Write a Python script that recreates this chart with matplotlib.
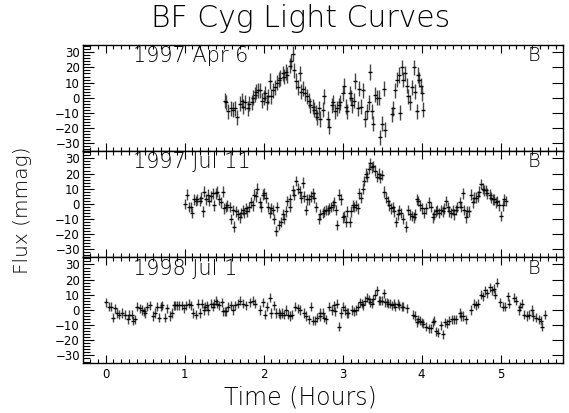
import matplotlib
matplotlib.use("Agg")
import matplotlib.pyplot as plt
from matplotlib.ticker import MultipleLocator

# 1997 Apr 6
t_apr = [1.51, 1.53, 1.555, 1.585, 1.61, 1.64, 1.66, 1.695, 1.725, 1.745, 1.77, 1.80, 1.82,
         1.85, 1.87, 1.89, 1.91, 1.935, 1.96, 1.98, 2.00, 2.02, 2.04, 2.06, 2.08, 2.10, 2.125,
         2.145, 2.17, 2.19, 2.21, 2.24, 2.26, 2.285, 2.30, 2.33, 2.345, 2.37, 2.39, 2.41, 2.43,
         2.455, 2.47, 2.50, 2.525, 2.55, 2.57, 2.59, 2.62, 2.64, 2.665, 2.68, 2.705, 2.72, 2.75,
         2.765, 2.81, 2.83, 2.86, 2.88, 2.905, 2.93, 2.95, 2.97, 3.00, 3.02, 3.045, 3.06, 3.09,
         3.10, 3.125, 3.145, 3.16, 3.19, 3.21, 3.23, 3.255, 3.285, 3.31, 3.33, 3.35, 3.37, 3.39,
         3.41, 3.43, 3.455, 3.475, 3.495, 3.52, 3.54, 3.62, 3.64, 3.665, 3.685, 3.71, 3.73, 3.75,
         3.77, 3.79, 3.81, 3.83, 3.855, 3.875, 3.90, 3.92, 3.94, 3.96, 3.97, 3.99, 4.00, 4.02]
f_apr = [-2, -3, -9, -7, -8, -7, -13, -4, -2, -6, -3, -7, -4,
         -3, 0, 2, 4, 5, 5, -2, 0, 3, -3, 1, 11, 1, 5,
         7, 10, 12, 13, 16, 14, 17, 15, 21, 24, 29, 18, 11, 7,
         16, 4, 6, 3, 1, -2, -5, -6, -8, -10, -13, -7, -14, -8,
         1, -14, -19, -5, -3, -9, -7, -5, -3, 3, 8, -6, -9, 3,
         0, -5, -2, 11, -7, 6, -6, 5, -14, -9, -3, 17, -9, -17,
         2, 0, 0, -26, -17, 6, -21, -11, -7, 5, 12, 15, -10, 20,
         12, 16, 8, 1, -3, 7, 20, 4, -9, 15, 12, 8, 3, -8]

# 1997 Jul 11
t_jul11 = [1.01, 1.03, 1.06, 1.08, 1.10, 1.12, 1.145, 1.16, 1.19, 1.205, 1.23, 1.25, 1.27,
           1.29, 1.315, 1.33, 1.36, 1.37, 1.40, 1.415, 1.44, 1.46, 1.48, 1.50, 1.525, 1.54,
           1.57, 1.585, 1.61, 1.63, 1.65, 1.67, 1.695, 1.71, 1.735, 1.75, 1.78, 1.795, 1.82,
           1.84, 1.86, 1.88, 1.905, 1.92, 1.95, 1.965, 1.99, 2.01, 2.03, 2.05, 2.075, 2.09,
           2.115, 2.13, 2.16, 2.175, 2.20, 2.22, 2.24, 2.26, 2.285, 2.30, 2.33, 2.34, 2.37,
           2.385, 2.41, 2.43, 2.455, 2.47, 2.50, 2.51, 2.54, 2.555, 2.58, 2.60, 2.62, 2.64,
           2.665, 2.695, 2.72, 2.75, 2.765, 2.79, 2.81, 2.83, 2.85, 2.875, 2.89, 2.92, 2.935,
           2.96, 2.98, 3.00, 3.02, 3.045, 3.06, 3.09, 3.10, 3.13, 3.145, 3.17, 3.19, 3.21,
           3.23, 3.255, 3.27, 3.29, 3.305, 3.33, 3.35, 3.37, 3.39, 3.41, 3.43, 3.455, 3.475,
           3.495, 3.525, 3.55, 3.57, 3.59, 3.61, 3.635, 3.65, 3.68, 3.695, 3.72, 3.735, 3.76,
           3.805, 3.83, 3.855, 3.875, 3.90, 3.92, 3.94, 3.96, 3.98, 4.00, 4.03, 4.06, 4.09,
           4.12, 4.14, 4.16, 4.18, 4.20, 4.225, 4.24, 4.27, 4.285, 4.31, 4.33, 4.35, 4.37,
           4.395, 4.41, 4.435, 4.45, 4.48, 4.495, 4.52, 4.54, 4.56, 4.58, 4.605, 4.62, 4.65,
           4.665, 4.69, 4.71, 4.73, 4.75, 4.775, 4.79, 4.82, 4.83, 4.86, 4.875, 4.90, 4.92,
           4.94, 4.96, 4.985, 5.00, 5.03, 5.045, 5.07]
f_jul11 = [0, 6, -2, -2, -6, 3, 2, 3, 2, 4, -5, 8, 3,
           6, 2, 5, 7, -1, 7, 8, 3, 1, 8, -3, -2, -1,
           -2, -10, -4, -15, -5, -7, -9, -6, -4, -6, -3, -5, -2,
           1, -1, 6, 5, 10, 1, -2, 6, 7, 4, -2, -6, -3,
           -4, -10, -18, -2, -14, -12, -7, -10, -5, 2, -2, 3, 9,
           6, 15, 10, 8, 4, 14, 5, -4, 3, 3, 5, 7, 4,
           -2, -10, -7, -6, -5, -4, -4, -3, -2, -1, 1, -4, -14,
           6, 3, -9, -8, -12, -5, -12, -5, -1, -2, -1, -3, 7,
           4, 10, 15, 20, 18, 23, 27, 24, 25, 22, 18, 20, 17,
           19, 8, 4, 2, -1, -3, -2, -5, -12, -7, -4, -6, -10,
           -15, -4, -7, -8, -9, -7, 3, 2, -1, -3, -6, -3, 1,
           -2, -9, -7, -5, -4, -6, -4, -5, -3, 2, -2, -5, -6,
           -4, -7, -4, -2, 1, -2, 7, -4, -9, -5, -5, 6, 1,
           4, 4, 5, 8, 13, 10, 9, 9, 7, 6, 4, 3, 3,
           1, 2, -1, -8, -1, 3, 2]

# 1998 Jul 1
t_jul1 = [0.01, 0.04, 0.065, 0.09, 0.12, 0.15, 0.175, 0.205, 0.25, 0.28, 0.30, 0.33, 0.35,
          0.375, 0.40, 0.43, 0.46, 0.48, 0.50, 0.53, 0.56, 0.60, 0.62, 0.65, 0.67, 0.70, 0.72,
          0.75, 0.78, 0.82, 0.84, 0.86, 0.88, 0.91, 0.935, 0.965, 0.995, 1.02, 1.05, 1.08,
          1.11, 1.145, 1.175, 1.20, 1.22, 1.24, 1.26, 1.28, 1.30, 1.33, 1.36, 1.37, 1.40,
          1.415, 1.44, 1.47, 1.49, 1.51, 1.53, 1.555, 1.585, 1.61, 1.64, 1.67, 1.695, 1.745,
          1.78, 1.83, 1.86, 1.89, 1.955, 1.99, 2.02, 2.04, 2.075, 2.10, 2.13, 2.16, 2.19, 2.21,
          2.23, 2.26, 2.285, 2.315, 2.335, 2.36, 2.40, 2.43, 2.455, 2.51, 2.54, 2.57, 2.60,
          2.62, 2.65, 2.68, 2.71, 2.72, 2.75, 2.765, 2.79, 2.83, 2.86, 2.885, 2.905, 2.93,
          2.95, 2.98, 3.00, 3.03, 3.05, 3.07, 3.115, 3.145, 3.17, 3.20, 3.22, 3.24, 3.26,
          3.285, 3.305, 3.33, 3.35, 3.37, 3.39, 3.41, 3.43, 3.455, 3.475, 3.495, 3.52, 3.54,
          3.56, 3.58, 3.60, 3.62, 3.645, 3.665, 3.695, 3.72, 3.75, 3.77, 3.82, 3.89, 3.92,
          3.94, 3.96, 3.98, 4.00, 4.02, 4.06, 4.09, 4.12, 4.14, 4.16, 4.18, 4.21, 4.24, 4.27,
          4.30, 4.32, 4.35, 4.38, 4.41, 4.435, 4.48, 4.495, 4.53, 4.56, 4.62, 4.66, 4.69,
          4.72, 4.75, 4.775, 4.80, 4.83, 4.86, 4.89, 4.91, 4.93, 4.96, 4.995, 5.03, 5.06,
          5.09, 5.11, 5.17, 5.20, 5.23, 5.25, 5.27, 5.30, 5.33, 5.365, 5.395, 5.415, 5.45,
          5.48, 5.51, 5.53, 5.56]
f_jul1 = [5, 2, 2, -5, 1, -2, -3, -2, -3, -6, -3, -3, -7,
          -6, 2, 1, 0, -1, -2, 2, 3, -4, -2, 2, -5, 2, 3,
          -5, 1, -4, -2, 3, 3, 3, 3, 3, 1, 3, 4, 3,
          -2, -3, 4, -2, 4, 0, 2, 3, 0, 4, 2, 4, 6,
          4, 3, 5, -1, -1, -1, 2, 3, 0, 3, 4, 6, 4,
          3, 5, 6, 4, 0, 5, -3, 2, 8, -2, 3, -2, -2, -3,
          -2, -3, 0, -3, -4, -3, 2, 1, 0, -2, -4, -6, 2,
          -7, -7, -5, -2, -4, -2, -5, -6, 2, 0, 3, -1, 4,
          -11, -2, 2, 0, -2, -2, 0, -1, 0, 2, 5, 4, 3,
          6, 8, 7, 5, 4, 7, 10, 13, 6, 6, 6, 11, 5,
          5, 4, 4, 3, 4, 2, 4, 3, 2, 2, 1, -3, -4,
          -8, -6, -7, -8, -9, -11, -12, -12, -8, -7, -14, -15, -10, -16,
          -8, -9, -7, -6, -6, -6, -2, -4, -4, -6, 0, 4, 3,
          4, 10, 9, 13, 11, 15, 13, 14, 10, 18, 5, 2, 2,
          9, 4, 8, 6, 0, 2, 4, -3, -4, -3, 0, -4, -5,
          -6, -7, -11, -3]

times = [t_apr, t_jul11, t_jul1]
fluxes = [f_apr, f_jul11, f_jul1]
errors = [5.0, 3.5, 3.0]
dates = ["1997 Apr 6", "1997 Jul 11", "1998 Jul 1"]
band = "B"

plt.rcParams['font.family'] = ['DejaVu Sans']
plt.rcParams['font.weight'] = 'light'

fig = plt.figure(figsize=(5.69, 4.13), dpi=100)
left, right, top, bottom = 0.1453, 0.9895, 0.8918, 0.121
h = (top - bottom) / 3.0

for i in range(3):
    ax = fig.add_axes([left, top - (i + 1) * h, right - left, h])
    ax.errorbar(times[i], fluxes[i], yerr=errors[i], fmt='_', color='black',
                ecolor='#444444', elinewidth=1.0, markersize=3, markeredgewidth=1.0, capsize=0)
    ax.set_xlim(-0.29, 5.79)
    ax.set_ylim(-35, 35)
    ax.xaxis.set_major_locator(MultipleLocator(1))
    ax.xaxis.set_minor_locator(MultipleLocator(0.1))
    ax.yaxis.set_major_locator(MultipleLocator(10))
    ax.yaxis.set_minor_locator(MultipleLocator(2))
    ax.tick_params(which='both', direction='in', top=True, right=True, labelsize=8.5, width=0.8)
    ax.tick_params(which='major', length=6)
    ax.tick_params(axis='y', which='major', length=8)
    ax.tick_params(which='minor', length=3)
    ax.tick_params(axis='y', which='minor', right=False, length=5)
    ax.tick_params(axis='y', pad=2)
    for lab in ax.get_xticklabels() + ax.get_yticklabels():
        lab.set_fontweight('normal')
    for s in ax.spines.values():
        s.set_linewidth(1.0)
    if i < 2:
        ax.tick_params(labelbottom=False)
    ax.text(0.105, 0.985, dates[i], transform=ax.transAxes, fontsize=15, va='top', ha='left')
    ax.text(0.94, 0.985, band, transform=ax.transAxes, fontsize=14, va='top', ha='center')

fig.text(0.529, 0.955, "BF Cyg Light Curves", fontsize=21.5, ha='center', va='center')
fig.text(0.528, 0.038, "Time (Hours)", fontsize=17, ha='center', va='center')
fig.text(0.04, 0.49, "Flux (mmag)", fontsize=14.5, ha='center', va='center', rotation=90)

fig.savefig("out.png", dpi=100)
